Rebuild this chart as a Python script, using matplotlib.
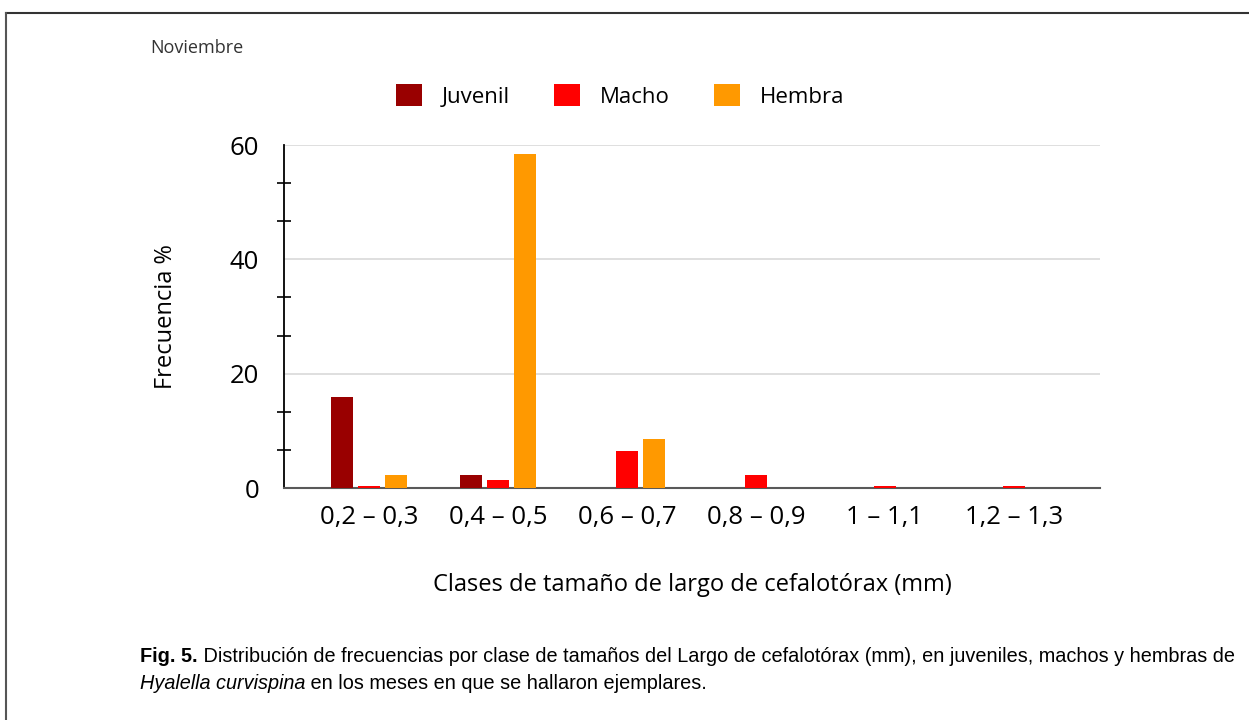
import numpy as np
import matplotlib.pyplot as plt
from matplotlib.lines import Line2D
from matplotlib.patches import Patch
from matplotlib.ticker import MultipleLocator, FixedLocator

plt.rcParams['font.family'] = ['Open Sans', 'DejaVu Sans']

# Data
clases = ["0,2 – 0,3", "0,4 – 0,5", "0,6 – 0,7", "0,8 – 0,9", "1 – 1,1", "1,2 – 1,3"]
juvenil = [16.0, 2.3, 0, 0, 0, 0]
macho = [0.4, 1.4, 6.5, 2.3, 0.4, 0.4]
hembra = [2.2, 58.4, 8.6, 0, 0, 0]

series = [("Juvenil", juvenil, "#990000"),
          ("Macho", macho, "#ff0000"),
          ("Hembra", hembra, "#ff9900")]

fig = plt.figure(figsize=(12.49, 7.2), dpi=100)
ax = fig.add_axes([0.2274, 0.3222, 0.6533, 0.4764])

x = np.arange(len(clases))
width = 0.17
for i, (name, vals, col) in enumerate(series):
    ax.bar(x + (i - 1) * 0.21, vals, width, color=col, linewidth=0, zorder=3)

ax.set_xlim(-0.66, 5.67)
ax.set_ylim(0, 60)
ax.set_xticks(x)
ax.set_xticklabels(clases, fontsize=18.5)
ax.tick_params(axis='x', length=0, pad=12)
ax.yaxis.set_major_locator(MultipleLocator(20))
ax.yaxis.set_minor_locator(FixedLocator([v for v in np.arange(0, 61, 20 / 3)
                                         if abs(v % 20) > 0.1 and abs(v % 20 - 20) > 0.1]))
ax.tick_params(axis='y', which='major', length=0, pad=18, labelsize=18.5)
ax.tick_params(axis='y', which='minor', direction='inout', length=9.5, width=1.2)
ax.grid(axis='y', color='#d9d9d9', linewidth=1.2, zorder=0)

for s in ['top', 'right']:
    ax.spines[s].set_visible(False)
ax.spines['left'].set_color('black')
ax.spines['left'].set_linewidth(1.3)
ax.spines['bottom'].set_color('#595959')
ax.spines['bottom'].set_linewidth(1.5)

ax.set_xlabel("Clases de tamaño de largo de cefalotórax (mm)", fontsize=17, labelpad=31)
ax.set_ylabel("Frecuencia %", fontsize=17, labelpad=37)

fig.text(150 / 1249, 1 - 48 / 720, "Noviembre", fontsize=13, va='center', ha='left',
         color='#333333')

handles = [Patch(facecolor=c, edgecolor='none', label=n) for n, v, c in series]
fig.legend(handles=handles, loc='center', bbox_to_anchor=(620 / 1249, 1 - 96 / 720),
           ncol=3, frameon=False, fontsize=16, handlelength=1.15, handleheight=1.15,
           columnspacing=2.0, handletextpad=0.9)

# outer frame lines (top and left only)
fig.add_artist(Line2D([6 / 1249, 1], [1 - 13 / 720, 1 - 13 / 720], color='#333333', linewidth=1.5))
fig.add_artist(Line2D([6 / 1249, 6 / 1249], [1 - 13 / 720, 0], color='#555555', linewidth=1.5))

# caption
cap_font = ['Liberation Sans Narrow', 'Liberation Sans', 'DejaVu Sans']
cap_size = 14.3
t1 = fig.text(140 / 1249, 1 - 662 / 720, "Fig. 5.", fontsize=cap_size, fontweight='bold',
              family=cap_font, va='baseline', ha='left')
ax.annotate(" Distribución de frecuencias por clase de tamaños del Largo de cefalotórax (mm), "
            "en juveniles, machos y hembras de", xy=(1, 0), xycoords=t1,
            fontsize=cap_size, family=cap_font, va='bottom', ha='left', annotation_clip=False)
t2 = fig.text(140 / 1249, 1 - 689 / 720, "Hyalella curvispina", fontsize=cap_size, style='italic',
              family=cap_font, va='baseline', ha='left')
ax.annotate(" en los meses en que se hallaron ejemplares.", xy=(1, 0), xycoords=t2,
            fontsize=cap_size, family=cap_font, va='bottom', ha='left', annotation_clip=False)

fig.savefig("out.png", dpi=100)
